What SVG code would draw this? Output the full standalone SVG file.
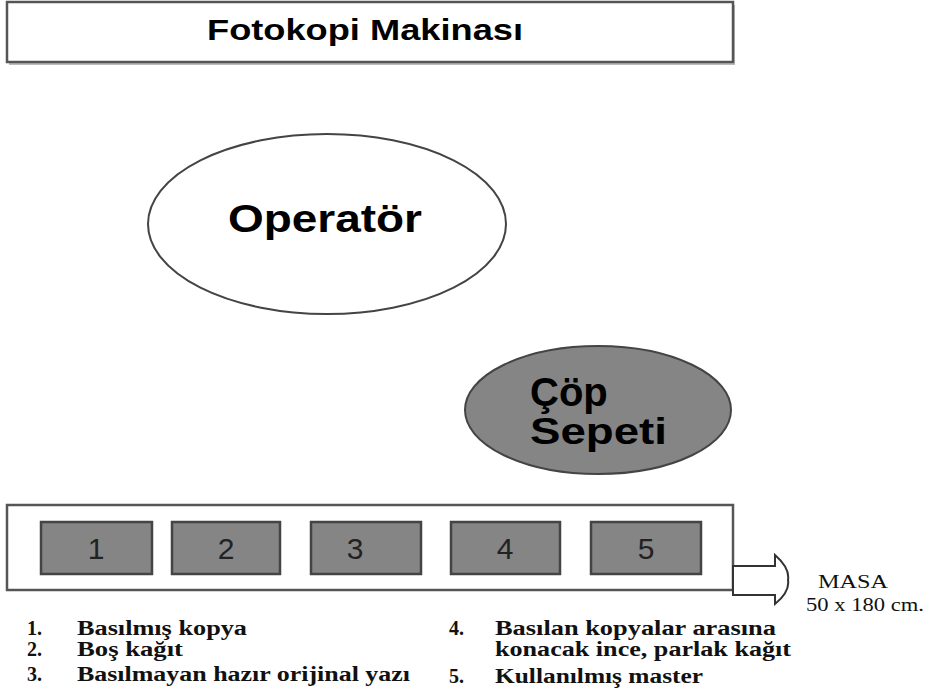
<svg xmlns="http://www.w3.org/2000/svg" width="926" height="697" viewBox="0 0 926 697">
<style>
.box{fill:#fff;stroke:#555;stroke-width:2.5}
.slot{fill:#858585;stroke:#444;stroke-width:2.5}
.num{font-family:"Liberation Sans",Arial,sans-serif;font-size:30px;fill:#222;text-anchor:middle}
.sans{font-family:"Liberation Sans",Arial,sans-serif;font-weight:bold;fill:#000}
.leg{font-family:"Liberation Serif","Times New Roman",serif;font-weight:bold;font-size:20px;fill:#111}
.masa{font-family:"Liberation Serif","Times New Roman",serif;font-size:18px;fill:#111}
</style>
<rect width="926" height="697" fill="#fff"/>
<g id="title">
<rect x="9" y="5" width="726" height="60" fill="#bbb"/>
<rect x="7" y="2" width="726" height="60" class="box"/>
<text x="365" y="40" class="sans" font-size="30" text-anchor="middle" textLength="316" lengthAdjust="spacingAndGlyphs" fill="#111">Fotokopi Makinası</text>
</g>
<g id="operator">
<ellipse cx="327" cy="224" rx="179" ry="90" fill="#fff" stroke="#444" stroke-width="2"/>
<text x="325" y="232" class="sans" font-size="38" text-anchor="middle" textLength="194" lengthAdjust="spacingAndGlyphs">Operatör</text>
</g>
<g id="cop-sepeti">
<ellipse cx="598" cy="410" rx="133" ry="64" fill="#858585" stroke="#444" stroke-width="2"/>
<text x="530" y="406" class="sans" font-size="40">Çöp</text>
<text x="530" y="444" class="sans" font-size="37" textLength="137" lengthAdjust="spacingAndGlyphs">Sepeti</text>
</g>
<g id="masa">
<rect x="7" y="505" width="726" height="85" class="box"/>
<g id="slot1"><rect x="41" y="522" width="111" height="52" class="slot"/><text x="96" y="559" class="num">1</text></g>
<g id="slot2"><rect x="172" y="522" width="108" height="52" class="slot"/><text x="226" y="559" class="num">2</text></g>
<g id="slot3"><rect x="311" y="522" width="110" height="52" class="slot"/><text x="355" y="559" class="num">3</text></g>
<g id="slot4"><rect x="451" y="522" width="109" height="52" class="slot"/><text x="505" y="559" class="num">4</text></g>
<g id="slot5"><rect x="591" y="522" width="110" height="52" class="slot"/><text x="646" y="559" class="num">5</text></g>
</g>
<g id="connectors">
<path d="M733,566 L775,566 L775,555 Q790,568 788,580 Q790,592 775,604 L775,595 L733,595 Z" fill="#fff" stroke="#333" stroke-width="2"/>
</g>
<g id="masa-label">
<text x="818" y="588" class="masa" textLength="70" lengthAdjust="spacingAndGlyphs">MASA</text>
<text x="806" y="611" class="masa" textLength="118" lengthAdjust="spacingAndGlyphs">50 x 180 cm.</text>
</g>
<g id="legend">
<text x="27" y="635" class="leg">1.</text>
<text x="77" y="635" class="leg" textLength="170" lengthAdjust="spacingAndGlyphs">Basılmış kopya</text>
<text x="27" y="656" class="leg">2.</text>
<text x="77" y="656" class="leg" textLength="106" lengthAdjust="spacingAndGlyphs">Boş kağıt</text>
<text x="27" y="681" class="leg">3.</text>
<text x="77" y="681" class="leg" textLength="333" lengthAdjust="spacingAndGlyphs">Basılmayan hazır orijinal yazı</text>
<text x="449" y="635" class="leg">4.</text>
<text x="495" y="635" class="leg" textLength="281" lengthAdjust="spacingAndGlyphs">Basılan kopyalar arasına</text>
<text x="495" y="656" class="leg" textLength="296" lengthAdjust="spacingAndGlyphs">konacak ince, parlak kağıt</text>
<text x="449" y="683" class="leg">5.</text>
<text x="495" y="683" class="leg" textLength="208" lengthAdjust="spacingAndGlyphs">Kullanılmış master</text>
</g>
</svg>
